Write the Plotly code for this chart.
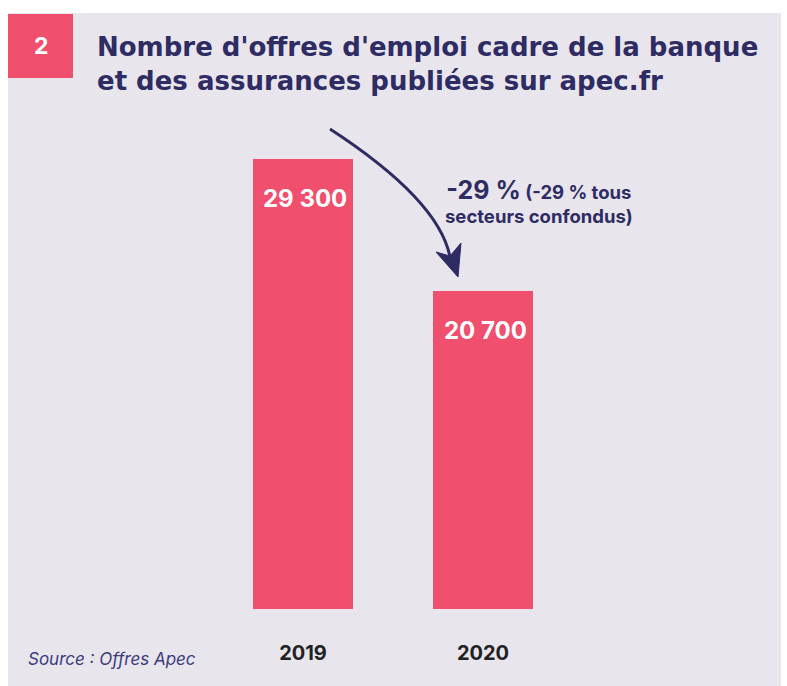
import plotly.graph_objects as go

years = ["2019", "2020"]
offers = [29300, 20700]

title_text = "Nombre d'offres d'emploi cadre de la banque<br>et des assurances publiées sur apec.fr"
source_text = "Source : Offres Apec"
badge_text = "2"

NAVY = "#2e2c63"
RED = "#f04f6d"
PANEL = "#e8e5ed"
FONT = "Inter"
TITLE_FONT = "DejaVu Sans"

W, H = 787, 686
L, R, T, B = 123, 124, 159, 77
PW = W - L - R
PH = H - T - B


def px(x):
    return (x - L) / PW


def py(y):
    return (H - B - y) / PH


def fmt(v):
    return f"{v:,}".replace(",", " ")


fig = go.Figure()
fig.add_trace(go.Bar(x=years, y=offers, marker=dict(color=RED, line=dict(width=0)),
                     width=0.556, hoverinfo="skip"))

shapes = [
    dict(type="rect", xref="paper", yref="paper", x0=px(8), x1=px(781), y0=py(686), y1=py(13),
         fillcolor=PANEL, line=dict(width=0), layer="below"),
    dict(type="rect", xref="paper", yref="paper", x0=px(8), x1=px(73), y0=py(78), y1=py(14),
         fillcolor=RED, line=dict(width=0), layer="below"),
    dict(type="path", xref="paper", yref="paper",
         path=f"M {px(330)} {py(129)} Q {px(439)} {py(200)} {px(450)} {py(257)}",
         line=dict(color=NAVY, width=3)),
    dict(type="path", xref="paper", yref="paper",
         path=(f"M {px(458)} {py(277)} L {px(436)} {py(252)} L {px(450)} {py(256)} "
               f"L {px(461)} {py(243)} Z"),
         fillcolor=NAVY, line=dict(color=NAVY, width=1)),
]

annotations = [
    dict(text=f"<b>{badge_text}</b>", xref="paper", yref="paper", x=px(41), y=py(46),
         xanchor="center", yanchor="middle", showarrow=False,
         font=dict(family=FONT, size=23, color="white")),
    dict(text=f"<b>{title_text}</b>", xref="paper", yref="paper", x=px(95), y=py(64),
         xanchor="left", yanchor="middle", align="left", showarrow=False,
         font=dict(family=TITLE_FONT, size=26, color=NAVY)),
    dict(text="<b><span style='font-size:25px'>-29 %</span> (-29 % tous<br>secteurs confondus)</b>",
         xref="paper", yref="paper", x=px(539), y=py(201), xanchor="center", yanchor="middle",
         align="center", showarrow=False,
         font=dict(family=FONT, size=18.5, color=NAVY)),
    dict(text=f"<i>{source_text}</i>", xref="paper", yref="paper", x=px(26), y=py(659),
         xanchor="left", yanchor="middle", showarrow=False,
         font=dict(family=FONT, size=17, color="#3b3a7c")),
]
for i, v in enumerate(offers):
    annotations.append(dict(text=f"<b>{fmt(v)}</b>", x=i, y=v, xref="x", yref="y",
                            yshift=-39, xshift=2, showarrow=False, xanchor="center",
                            yanchor="middle",
                            font=dict(family=FONT, size=24, color="white")))

fig.update_layout(
    width=W, height=H, margin=dict(l=L, r=R, t=T, b=B, pad=0),
    paper_bgcolor="white", plot_bgcolor="rgba(0,0,0,0)",
    showlegend=False, bargap=0,
    shapes=shapes, annotations=annotations,
    xaxis=dict(type="category", range=[-1, 2], showgrid=False, zeroline=False, showline=False,
               ticks="outside", ticklen=26, tickcolor="rgba(0,0,0,0)",
               tickfont=dict(family=FONT, size=20, color="#222222", weight="bold"),
               fixedrange=True),
    yaxis=dict(range=[0, max(offers)], visible=False, fixedrange=True),
)

fig.write_html("out.html", config={"displayModeBar": False})
